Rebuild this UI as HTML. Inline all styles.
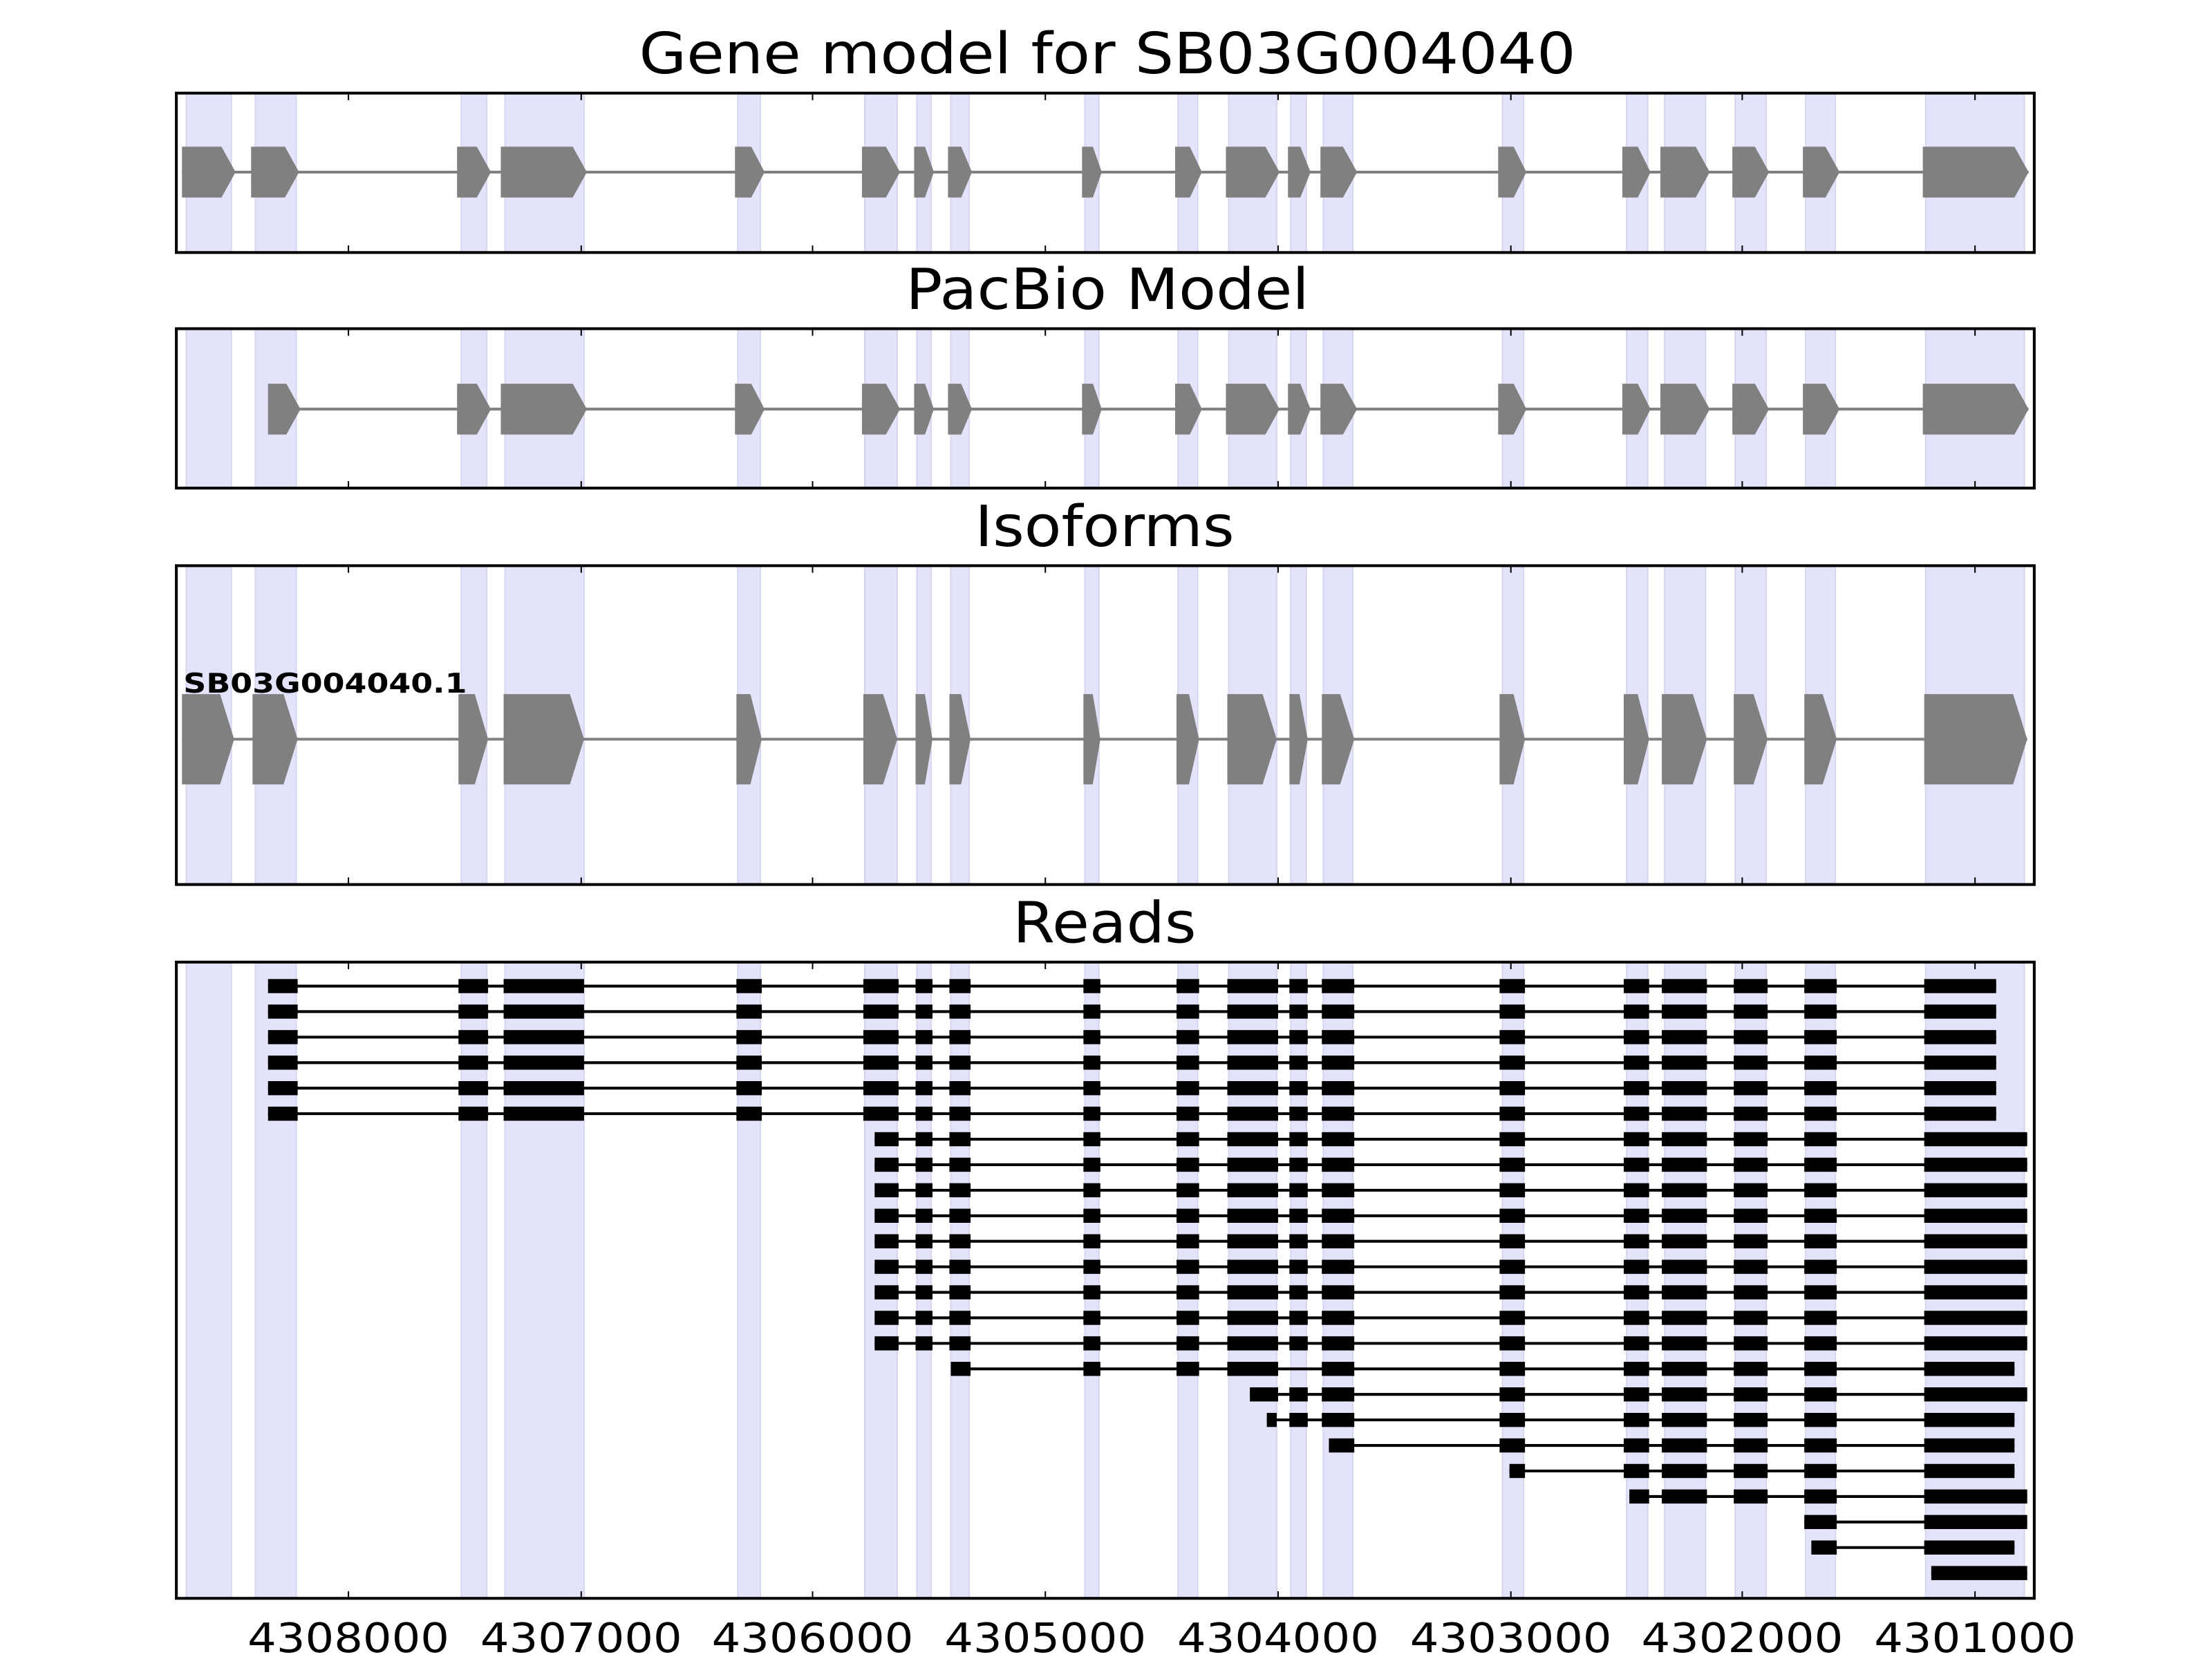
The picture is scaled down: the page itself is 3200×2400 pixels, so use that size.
<!DOCTYPE html>
<html><head><meta charset="utf-8"><style>html,body{margin:0;padding:0;background:#fff}svg{display:block}</style></head>
<body>
<svg id="s" width="3200" height="2400" viewBox="0 0 1568 1176" xmlns="http://www.w3.org/2000/svg" font-family="DejaVu Sans, Liberation Sans, sans-serif">
<rect width="1568" height="1176" fill="#fff"/>
<g id="g"></g>
<g font-size="40" text-anchor="middle" fill="#000">
<text x="785" y="52" textLength="664" lengthAdjust="spacingAndGlyphs">Gene model for SB03G004040</text>
<text x="785" y="219" textLength="286" lengthAdjust="spacingAndGlyphs">PacBio Model</text>
<text x="783" y="387" textLength="184" lengthAdjust="spacingAndGlyphs">Isoforms</text>
<text x="783" y="668" textLength="130" lengthAdjust="spacingAndGlyphs">Reads</text>
</g>
<text x="130" y="491" font-size="19" font-weight="bold" textLength="201" lengthAdjust="spacingAndGlyphs">SB03G004040.1</text>
<g font-size="29" text-anchor="middle">
<text x="247" y="1171" textLength="143" lengthAdjust="spacingAndGlyphs">4308000</text><text x="412" y="1171" textLength="143" lengthAdjust="spacingAndGlyphs">4307000</text><text x="576" y="1171" textLength="143" lengthAdjust="spacingAndGlyphs">4306000</text><text x="741" y="1171" textLength="143" lengthAdjust="spacingAndGlyphs">4305000</text><text x="906" y="1171" textLength="143" lengthAdjust="spacingAndGlyphs">4304000</text><text x="1071" y="1171" textLength="143" lengthAdjust="spacingAndGlyphs">4303000</text><text x="1235" y="1171" textLength="143" lengthAdjust="spacingAndGlyphs">4302000</text><text x="1400" y="1171" textLength="143" lengthAdjust="spacingAndGlyphs">4301000</text>
</g>
</svg>
<script>
var g=document.getElementById('g'),h='';
var panels=[[66,179],[233,346],[401,627],[682,1133]];
var shade=[[132,164],[181,210],[327,345],[358,414],[523,539],[613,636],[650,660],[674,687],[769,779],[835,849],[871,905],[915,926],[938,959],[1065,1080],[1153,1168],[1180,1209],[1230,1252],[1280,1301],[1365,1435]];
var ticks=[247,412,576,741,906,1071,1235,1400];
panels.forEach(function(p){
 shade.forEach(function(s){h+='<rect x="'+s[0]+'" y="'+p[0]+'" width="'+(s[1]-s[0])+'" height="'+(p[1]-p[0])+'" fill="#e3e3fb" stroke="#d6d6ee" stroke-width="1"/>';});
});
function arrow(a,b,cy,hh){var t=Math.min(10,(b-a)*0.45);var m=b-t;return '<polygon points="'+a+','+(cy-hh)+' '+m+','+(cy-hh)+' '+b+','+cy+' '+m+','+(cy+hh)+' '+a+','+(cy+hh)+'" fill="#808080"/>';}
var ex=[[129,167],[178,212],[324,348],[355,416],[521,542],[611,638],[648,662],[672,689],[767,781],[833,852],[869,907],[913,929],[936,962],[1062,1082],[1150,1170],[1177,1212],[1228,1254],[1278,1304],[1363,1438]];
h+='<line x1="129" y1="122" x2="1438" y2="122" stroke="#808080" stroke-width="2"/>';
ex.forEach(function(e){h+=arrow(e[0],e[1],122,18);});
var ex2=ex.slice(1);ex2[0]=[190,213];
h+='<line x1="190" y1="290" x2="1438" y2="290" stroke="#808080" stroke-width="2"/>';
ex2.forEach(function(e){h+=arrow(e[0],e[1],290,18);});
var ex3=[[129,166],[179,211],[325,346],[357,414],[522,540],[612,636],[649,661],[673,688],[768,780],[834,850],[870,905],[914,927],[937,960],[1063,1081],[1151,1169],[1178,1210],[1229,1253],[1279,1302],[1364,1437]];
h+='<line x1="129" y1="524" x2="1437" y2="524" stroke="#808080" stroke-width="2"/>';
ex3.forEach(function(e){h+=arrow(e[0],e[1],524,32);});
var full=[[190,211],[325,346],[357,414],[522,540],[612,637],[649,661],[673,688],[768,780],[834,850],[870,906],[914,927],[937,960],[1063,1081],[1151,1169],[1178,1210],[1229,1253],[1279,1302]];
function tail(fromIdx){return full.slice(fromIdx);}
var rows=[];
for(var i=0;i<6;i++)rows.push(full.concat([[1364,1415]]));
for(var i=0;i<9;i++)rows.push([[620,637]].concat(tail(5)).concat([[1364,1437]]));
rows.push([[674,688],[768,780],[834,850],[870,906],[937,960]].concat(tail(12)).concat([[1364,1428]]));
rows.push([[886,906]].concat(tail(10)).concat([[1364,1437]]));
rows.push([[898,905]].concat(tail(10)).concat([[1364,1428]]));
rows.push([[942,960]].concat(tail(12)).concat([[1364,1428]]));
rows.push([[1070,1081]].concat(tail(13)).concat([[1364,1428]]));
rows.push([[1155,1169]].concat(tail(14)).concat([[1364,1437]]));
rows.push([[1279,1302],[1364,1437]]);
rows.push([[1284,1302],[1364,1428]]);
rows.push([[1369,1437]]);
rows.forEach(function(r,i){var y=699+i*18.09;
 h+='<line x1="'+r[0][0]+'" y1="'+y+'" x2="'+r[r.length-1][1]+'" y2="'+y+'" stroke="#000" stroke-width="2"/>';
 r.forEach(function(e){h+='<rect x="'+e[0]+'" y="'+(y-5)+'" width="'+(e[1]-e[0])+'" height="10" fill="#000"/>';});
});
panels.forEach(function(p){
 ticks.forEach(function(t){h+='<line x1="'+t+'" y1="'+p[0]+'" x2="'+t+'" y2="'+(p[0]+5)+'" stroke="#000" stroke-width="1"/><line x1="'+t+'" y1="'+p[1]+'" x2="'+t+'" y2="'+(p[1]-5)+'" stroke="#000" stroke-width="1"/>';});
 h+='<rect x="125" y="'+p[0]+'" width="1317" height="'+(p[1]-p[0])+'" fill="none" stroke="#000" stroke-width="2"/>';
});
g.innerHTML=h;
</script>
</body></html>
